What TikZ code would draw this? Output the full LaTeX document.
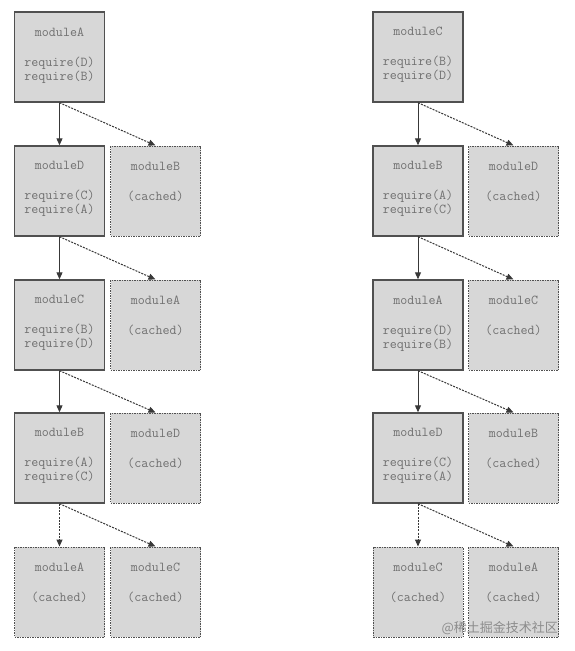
\documentclass[tikz,border=0pt]{standalone}
\usepackage{fontspec}
\newfontfamily\cjkfont{Noto Sans CJK SC}
\usetikzlibrary{arrows.meta}
\definecolor{boxfill}{HTML}{D7D7D7}
\definecolor{boxdraw}{HTML}{505050}
\definecolor{txtcol}{HTML}{707070}
\definecolor{arrcol}{HTML}{383838}
\tikzset{
  x=1pt, y=1pt,
  mainbox/.style={draw=boxdraw, line width=1.4pt, fill=boxfill, minimum width=90pt, minimum height=90pt, inner sep=0pt},
  cachebox/.style={draw=boxdraw, line width=1pt, dash pattern=on 1.5pt off 1pt, fill=boxfill, minimum width=90pt, minimum height=90pt, inner sep=0pt},
  txt/.style={font=\fontsize{13.6pt}{14pt}\selectfont\ttfamily, text=txtcol, align=center, anchor=north, inner sep=0pt, yshift=-16pt},
  req/.style={draw=arrcol, line width=1pt, -{Triangle[length=7pt,width=6pt]}},
  cachedarr/.style={draw=arrcol, line width=1pt, dash pattern=on 2pt off 1.2pt, -{Triangle[length=7pt,width=6pt]}}
}
\begin{document}
\begin{tikzpicture}
\useasboundingbox (0,0) rectangle (574,-651);
\fill[white] (0,0) rectangle (574,-651);
% ---------------- left chain ----------------
\node[mainbox] (LA) at (59.5,-57) {};
\node[txt] (LAt) at (LA.north) {moduleA\\[16pt]require(D)\\require(B)};
\node[mainbox] (LD) at (59.5,-191) {};
\node[txt] (LDt) at (LD.north) {moduleD\\[16pt]require(C)\\require(A)};
\node[cachebox] (LB1) at (155.5,-191) {};
\node[txt] (LB1t) at (LB1.north) {moduleB\\[16pt](cached)};
\node[mainbox] (LC) at (59.5,-325) {};
\node[txt] (LCt) at (LC.north) {moduleC\\[16pt]require(B)\\require(D)};
\node[cachebox] (LA1) at (155.5,-325) {};
\node[txt] (LA1t) at (LA1.north) {moduleA\\[16pt](cached)};
\node[mainbox] (LB) at (59.5,-458) {};
\node[txt] (LBt) at (LB.north) {moduleB\\[16pt]require(A)\\require(C)};
\node[cachebox] (LD1) at (155.5,-458) {};
\node[txt] (LD1t) at (LD1.north) {moduleD\\[16pt](cached)};
\node[cachebox] (LA2) at (59.5,-592) {};
\node[txt] (LA2t) at (LA2.north) {moduleA\\[16pt](cached)};
\node[cachebox] (LC1) at (155.5,-592) {};
\node[txt] (LC1t) at (LC1.north) {moduleC\\[16pt](cached)};
\draw[req] (LA.south) -- (LD.north);
\draw[cachedarr] (LA.south) -- (LB1.north);
\draw[req] (LD.south) -- (LC.north);
\draw[cachedarr] (LD.south) -- (LA1.north);
\draw[req] (LC.south) -- (LB.north);
\draw[cachedarr] (LC.south) -- (LD1.north);
\draw[cachedarr] (LB.south) -- (LA2.north);
\draw[cachedarr] (LB.south) -- (LC1.north);
% ---------------- right chain ----------------
\node[mainbox] (RC) at (418,-57) {};
\node[txt] (RCt) at (RC.north) {moduleC\\[16pt]require(B)\\require(D)};
\node[mainbox] (RB) at (418,-191) {};
\node[txt] (RBt) at (RB.north) {moduleB\\[16pt]require(A)\\require(C)};
\node[cachebox] (RD1) at (513.5,-191) {};
\node[txt] (RD1t) at (RD1.north) {moduleD\\[16pt](cached)};
\node[mainbox] (RA) at (418,-325) {};
\node[txt] (RAt) at (RA.north) {moduleA\\[16pt]require(D)\\require(B)};
\node[cachebox] (RC1) at (513.5,-325) {};
\node[txt] (RC1t) at (RC1.north) {moduleC\\[16pt](cached)};
\node[mainbox] (RD) at (418,-458) {};
\node[txt] (RDt) at (RD.north) {moduleD\\[16pt]require(C)\\require(A)};
\node[cachebox] (RB1) at (513.5,-458) {};
\node[txt] (RB1t) at (RB1.north) {moduleB\\[16pt](cached)};
\node[cachebox] (RC2) at (418,-592) {};
\node[txt] (RC2t) at (RC2.north) {moduleC\\[16pt](cached)};
\node[cachebox] (RA1) at (513.5,-592) {};
\node[txt] (RA1t) at (RA1.north) {moduleA\\[16pt](cached)};
\draw[req] (RC.south) -- (RB.north);
\draw[cachedarr] (RC.south) -- (RD1.north);
\draw[req] (RB.south) -- (RA.north);
\draw[cachedarr] (RB.south) -- (RC1.north);
\draw[req] (RA.south) -- (RD.north);
\draw[cachedarr] (RA.south) -- (RB1.north);
\draw[cachedarr] (RD.south) -- (RC2.north);
\draw[cachedarr] (RD.south) -- (RA1.north);
% watermark
\node[font=\cjkfont\fontsize{13pt}{15pt}\selectfont, text=black!45, anchor=east, inner sep=0pt] (wm) at (558,-628) {@稀土掘金技术社区};
\end{tikzpicture}
\end{document}
